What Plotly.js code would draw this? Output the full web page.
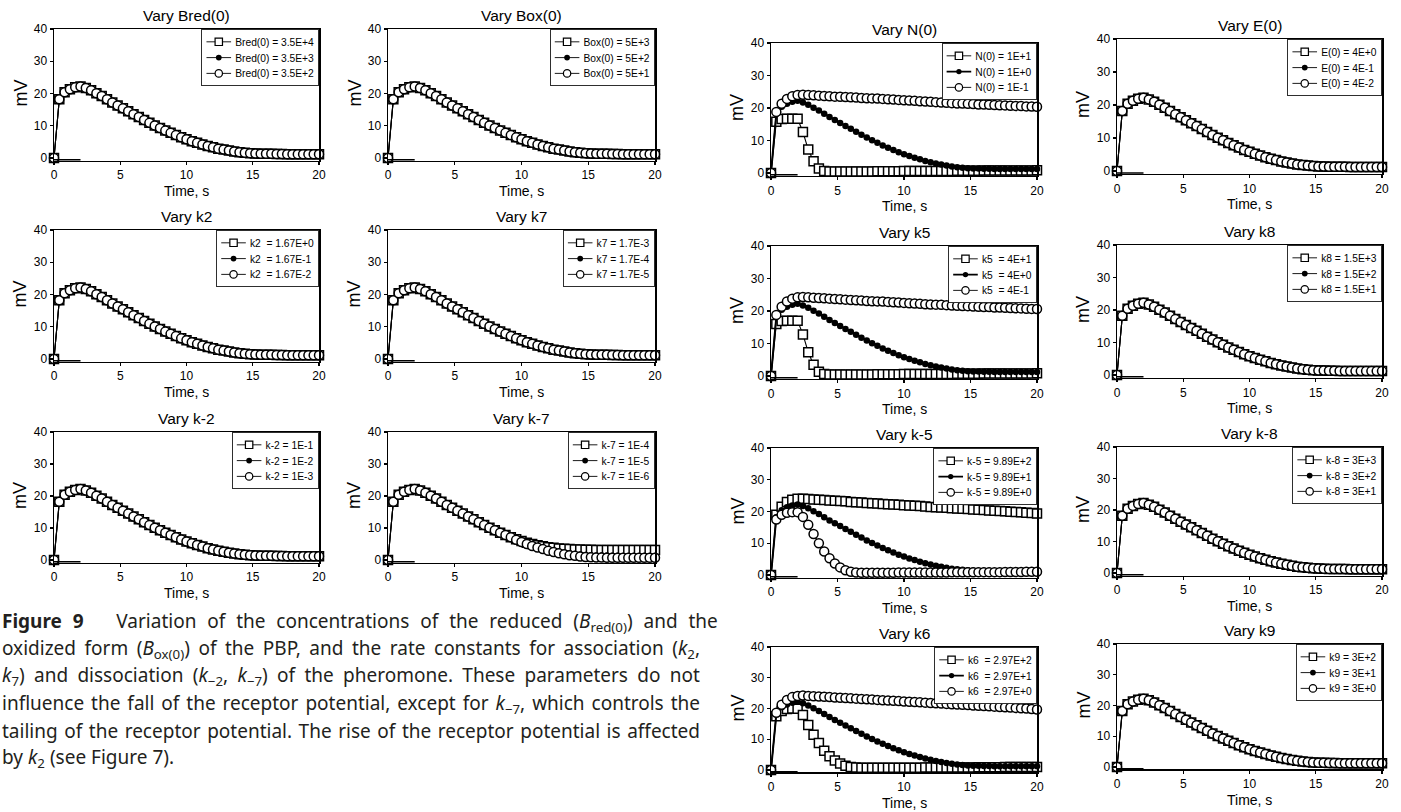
<!DOCTYPE html>
<html><head><meta charset="utf-8">
<script src="https://cdn.plot.ly/plotly-3.0.1.min.js"></script>
<style>html,body{margin:0;padding:0;background:#fff}#chart{width:1401px;height:812px}</style>
</head><body><div id="chart"></div>
<script>
// ---------- data ----------
const time = [0,0.4,0.8,1.2,1.6,2,2.4,2.8,3.2,3.6,4,4.4,4.8,5.2,5.6,6,6.4,6.8,7.2,7.6,8,8.4,8.8,9.2,9.6,10,10.4,10.8,11.2,11.6,12,12.4,12.8,13.2,13.6,14,14.4,14.8,15.2,15.6,16,16.4,16.8,17.2,17.6,18,18.4,18.8,19.2,19.6,20];
const standard = [0,18.2,20.4,21.3,21.9,22.2,21.7,21.0,20.1,19.2,18.2,17.2,16.3,15.4,14.5,13.6,12.7,11.8,10.9,10.1,9.3,8.5,7.8,7.1,6.4,5.8,5.2,4.7,4.2,3.7,3.3,2.9,2.6,2.3,2.0,1.8,1.65,1.5,1.4,1.35,1.3,1.3,1.25,1.25,1.2,1.2,1.2,1.2,1.2,1.2,1.2];
const kM7_1E4 = [0,18.2,20.4,21.3,21.9,22.2,21.7,21.0,20.1,19.2,18.2,17.2,16.3,15.4,14.5,13.6,12.7,11.8,10.9,10.1,9.3,8.5,7.8,7.1,6.5,5.9,5.4,5.0,4.6,4.3,4.0,3.8,3.6,3.5,3.4,3.3,3.25,3.2,3.2,3.15,3.15,3.15,3.1,3.1,3.1,3.1,3.1,3.1,3.1,3.1,3.1];
const kM7_1E6 = [0,18.2,20.4,21.3,21.9,22.2,21.7,21.0,20.1,19.2,18.2,17.2,16.3,15.4,14.5,13.6,12.7,11.8,10.9,10.1,9.3,8.5,7.8,7.1,6.3,5.6,5.0,4.4,3.9,3.4,2.9,2.5,2.1,1.8,1.5,1.3,1.1,0.95,0.85,0.8,0.75,0.72,0.7,0.7,0.7,0.7,0.7,0.7,0.7,0.7,0.7];
const N0_1E1 = [0,15.8,16.6,16.7,16.7,16.7,12.6,7.2,3.6,1.4,0.6,0.5,0.5,0.5,0.5,0.5,0.5,0.5,0.5,0.5,0.55,0.55,0.55,0.55,0.55,0.6,0.6,0.6,0.6,0.6,0.65,0.65,0.65,0.65,0.65,0.7,0.7,0.7,0.7,0.7,0.75,0.75,0.75,0.75,0.75,0.8,0.8,0.8,0.8,0.8,0.85];
const N0_1Em1 = [0,18.8,21.3,22.8,23.6,24.0,24.1,24.0,23.9,23.8,23.7,23.6,23.5,23.45,23.4,23.3,23.2,23.1,23.0,22.95,22.9,22.8,22.7,22.6,22.5,22.4,22.3,22.2,22.1,22.0,21.9,21.8,21.7,21.6,21.5,21.4,21.35,21.3,21.2,21.1,21.05,21.0,20.9,20.85,20.8,20.7,20.65,20.6,20.5,20.45,20.4];
const k5_4E1 = [0,16.0,16.9,17.0,17.0,17.0,12.8,7.3,3.5,1.3,0.6,0.5,0.5,0.5,0.5,0.5,0.5,0.5,0.5,0.5,0.55,0.55,0.55,0.55,0.55,0.6,0.6,0.6,0.6,0.6,0.65,0.65,0.65,0.65,0.65,0.7,0.7,0.7,0.7,0.7,0.75,0.75,0.75,0.75,0.75,0.8,0.8,0.8,0.8,0.8,0.85];
const k5_4Em1 = [0,18.8,21.3,22.9,23.8,24.2,24.3,24.2,24.1,24.0,23.9,23.8,23.7,23.6,23.5,23.4,23.3,23.2,23.1,23.0,22.95,22.9,22.8,22.7,22.6,22.5,22.4,22.3,22.2,22.1,22.0,21.95,21.9,21.8,21.7,21.6,21.55,21.5,21.4,21.3,21.25,21.2,21.1,21.05,21.0,20.9,20.85,20.8,20.7,20.65,20.6];
const kM5_989E2 = [0,19.0,21.5,23.0,23.7,24.0,24.0,23.9,23.8,23.7,23.6,23.5,23.4,23.3,23.2,23.0,22.9,22.8,22.7,22.6,22.5,22.4,22.3,22.2,22.1,22.0,21.9,21.8,21.7,21.55,21.45,21.35,21.25,21.15,21.05,20.95,20.85,20.75,20.65,20.55,20.45,20.35,20.25,20.15,20.05,19.95,19.85,19.75,19.6,19.5,19.4];
const kM5_989E0 = [0,17.5,19.0,19.6,19.8,19.8,18.3,15.8,12.9,10.0,7.4,5.3,3.6,2.4,1.5,1.0,0.8,0.7,0.7,0.7,0.7,0.7,0.7,0.7,0.75,0.75,0.75,0.75,0.75,0.8,0.8,0.8,0.8,0.8,0.85,0.85,0.85,0.85,0.85,0.9,0.9,0.9,0.9,0.9,0.95,0.95,0.95,0.95,1.0,1.0,1.0];
const k6_297E2 = [0,17.5,19.2,19.8,20.0,19.9,17.9,14.6,11.5,8.8,6.3,4.5,3.1,2.1,1.4,1.0,0.8,0.7,0.7,0.7,0.7,0.7,0.7,0.7,0.75,0.75,0.75,0.75,0.75,0.8,0.8,0.8,0.8,0.8,0.85,0.85,0.85,0.85,0.85,0.9,0.9,0.9,0.9,0.9,0.95,0.95,0.95,0.95,1.0,1.0,1.0];
const k6_297E0 = [0,18.6,21.2,22.8,23.7,24.1,24.2,24.1,24.0,23.9,23.8,23.7,23.6,23.5,23.4,23.3,23.2,23.1,23.0,22.9,22.8,22.7,22.6,22.5,22.4,22.3,22.2,22.1,22.0,21.9,21.8,21.7,21.6,21.5,21.4,21.3,21.2,21.1,21.0,20.9,20.8,20.7,20.6,20.5,20.4,20.3,20.2,20.1,20.0,19.85,19.7];
const stimulusTime = [0, 2];

const panelTitles = ['Vary Bred(0)','Vary Box(0)','Vary k2','Vary k7','Vary k-2','Vary k-7',
  'Vary N(0)','Vary E(0)','Vary k5','Vary k8','Vary k-5','Vary k-8','Vary k6','Vary k9'];
const legendLabels = [
  ['Bred(0) = 3.5E+4','Bred(0) = 3.5E+3','Bred(0) = 3.5E+2'],
  ['Box(0) = 5E+3','Box(0) = 5E+2','Box(0) = 5E+1'],
  ['k2  = 1.67E+0','k2  = 1.67E-1','k2  = 1.67E-2'],
  ['k7 = 1.7E-3','k7 = 1.7E-4','k7 = 1.7E-5'],
  ['k-2 = 1E-1','k-2 = 1E-2','k-2 = 1E-3'],
  ['k-7 = 1E-4','k-7 = 1E-5','k-7 = 1E-6'],
  ['N(0) = 1E+1','N(0) = 1E+0','N(0) = 1E-1'],
  ['E(0) = 4E+0','E(0) = 4E-1','E(0) = 4E-2'],
  ['k5  = 4E+1','k5  = 4E+0','k5  = 4E-1'],
  ['k8 = 1.5E+3','k8 = 1.5E+2','k8 = 1.5E+1'],
  ['k-5 = 9.89E+2','k-5 = 9.89E+1','k-5 = 9.89E+0'],
  ['k-8 = 3E+3','k-8 = 3E+2','k-8 = 3E+1'],
  ['k6  = 2.97E+2','k6  = 2.97E+1','k6  = 2.97E+0'],
  ['k9 = 3E+2','k9 = 3E+1','k9 = 3E+0']
];
const panelSeries = [
  [standard, standard, standard],
  [standard, standard, standard],
  [standard, standard, standard],
  [standard, standard, standard],
  [standard, standard, standard],
  [kM7_1E4, standard, kM7_1E6],
  [N0_1E1, standard, N0_1Em1],
  [standard, standard, standard],
  [k5_4E1, standard, k5_4Em1],
  [standard, standard, standard],
  [kM5_989E2, standard, kM5_989E0],
  [standard, standard, standard],
  [k6_297E2, standard, k6_297E0],
  [standard, standard, standard]
];
const xTicks = [0, 5, 10, 15, 20];
const yTicks = [0, 10, 20, 30, 40];
const xTitle = 'Time, s';
const yTitle = 'mV';
const captionLines = [
  '<b>Figure 9</b>\u00a0\u00a0\u00a0Variation of the concentrations of the reduced (<i>B</i><sub>red(0)</sub>) and the',
  'oxidized form (<i>B</i><sub>ox(0)</sub>) of the PBP, and the rate constants for association (<i>k</i><sub>2</sub>,',
  '<i>k</i><sub>7</sub>) and dissociation (<i>k</i><sub>\u22122</sub>, <i>k</i><sub>\u22127</sub>) of the pheromone. These parameters do not',
  'influence the fall of the receptor potential, except for <i>k</i><sub>\u22127</sub>, which controls the',
  'tailing of the receptor potential. The rise of the receptor potential is affected',
  'by <i>k</i><sub>2</sub> (see Figure 7).'
];

// ---------- layout (pixel boxes: x of t=0 and t=20, y of 40 mV and 0 mV) ----------
const W = 1401, H = 812;
const boxes = [
  [54,319,29,158],[388,655,29,158],
  [54,319,230,359],[388,655,230,359],
  [54,319,432,560],[388,655,432,560],
  [771,1037,43,173],[1117,1382,39,171],
  [771,1037,246,376],[1117,1382,245,375],
  [771,1037,448,575],[1117,1382,447,573],
  [771,1037,647,770],[1117,1382,644,767]
];
const densePanels = [6, 8, 10, 12];
const YMIN = -0.8;
const FONT = 'Liberation Sans, Arial, Helvetica, sans-serif';
const CAP_FONT = 'Noto Sans, Open Sans, sans-serif';
const CAP_RIGHT = 700;
const LEGEND_SCALE = 0.82;

const traces = [];
const layout = {
  width: W, height: H, margin: {l:0, r:0, t:0, b:0},
  paper_bgcolor: '#fff', plot_bgcolor: '#fff',
  font: {family: FONT, color: '#000', size: 12},
  annotations: [], showlegend: true
};
const px2x = p => p / W;
const px2y = p => 1 - p / H;

boxes.forEach((b, i) => {
  const [x0, x1, yTop, yZero] = b;
  const n = i + 1;
  const xa = 'x' + (n === 1 ? '' : n), ya = 'y' + (n === 1 ? '' : n);
  const xk = 'xaxis' + (n === 1 ? '' : n), yk = 'yaxis' + (n === 1 ? '' : n);
  const lg = 'legend' + (n === 1 ? '' : n);
  const pxPerUnit = (yZero - yTop) / 40;
  const yBottom = yZero - YMIN * pxPerUnit;
  const axCommon = {
    showline: true, mirror: true, linecolor: '#000', linewidth: 1.5,
    ticks: 'outside', ticklen: 3, tickwidth: 1.2, tickcolor: '#000',
    showgrid: false, zeroline: false, fixedrange: true,
    tickfont: {family: FONT, size: 12, color: '#000'}
  };
  layout[xk] = Object.assign({}, axCommon, {
    domain: [px2x(x0), px2x(x1)], range: [0, 20], tickvals: xTicks, anchor: ya
  });
  layout[yk] = Object.assign({}, axCommon, {
    domain: [px2y(yBottom), px2y(yTop)], range: [YMIN, 40], tickvals: yTicks, anchor: xa
  });
  layout[lg] = {
    x: px2x(x1), y: px2y(yTop), xanchor: 'right', yanchor: 'top',
    bgcolor: '#fff', bordercolor: '#000', borderwidth: 1,
    font: {family: FONT, size: 12.5, color: '#000'},
    itemwidth: 30, tracegroupgap: 0, traceorder: 'normal'
  };
  const dense = densePanels.includes(i);
  const symbols = ['square', 'circle', 'circle'];
  panelSeries[i].forEach((ys, s) => {
    const filled = s === 1;
    traces.push({
      type: 'scatter', mode: 'lines+markers', x: time, y: ys,
      xaxis: xa, yaxis: ya, legend: lg, name: legendLabels[i][s],
      cliponaxis: false,
      line: {color: '#000', width: filled && dense ? 2 : 1.1},
      marker: {
        symbol: symbols[s],
        size: filled ? (dense ? 6.5 : 7) : 9,
        color: filled ? '#000' : '#fff',
        line: {color: '#000', width: filled ? 0 : 1.5}
      },
      hoverinfo: 'skip'
    });
  });
  // stimulus bar
  traces.push({
    type: 'scatter', mode: 'lines', x: stimulusTime, y: [YMIN, YMIN],
    xaxis: xa, yaxis: ya, showlegend: false, cliponaxis: false,
    line: {color: '#000', width: 3}, hoverinfo: 'skip'
  });
  // panel title
  layout.annotations.push({
    xref: 'paper', yref: 'paper', x: px2x((x0 + x1) / 2), y: px2y(yTop - 3),
    xanchor: 'center', yanchor: 'bottom', showarrow: false,
    text: panelTitles[i], font: {family: FONT, size: 15.5, color: '#000'}
  });
  // x axis title
  layout.annotations.push({
    xref: 'paper', yref: 'paper', x: px2x((x0 + x1) / 2), y: px2y(yBottom + 30.5),
    xanchor: 'center', yanchor: 'middle', showarrow: false,
    text: xTitle, font: {family: FONT, size: 14, color: '#000'}
  });
  // y axis title
  layout.annotations.push({
    xref: 'paper', yref: 'paper', x: px2x(x0 - 34), y: px2y((yTop + yZero) / 2),
    xanchor: 'center', yanchor: 'middle', showarrow: false, textangle: -90,
    text: yTitle, font: {family: FONT, size: 18, color: '#000'}
  });
});

const captionStart = layout.annotations.length;
captionLines.forEach((t, k) => {
  layout.annotations.push({
    xref: 'paper', yref: 'paper', x: 0, y: px2y(622 + k * 27.2),
    xanchor: 'left', yanchor: 'middle', showarrow: false, align: 'left',
    text: t, font: {family: CAP_FONT, size: 19, color: '#231f20'}
  });
});

Plotly.newPlot('chart', traces, layout, {displayModeBar: false, staticPlot: true}).then(gd => {
  // justify the caption lines (all but the last) to the right edge, as in the printed figure
  const texts = gd.querySelectorAll('.annotation-text');
  for (let k = 0; k < captionLines.length - 1; k++) {
    const el = texts[captionStart + k];
    if (!el) continue;
    const before = el.getBoundingClientRect();
    const spaces = (el.textContent.match(/ /g) || []).length;
    if (!spaces) continue;
    const extra = (CAP_RIGHT - before.right) / spaces;
    el.style.wordSpacing = extra + 'px';
    const after = el.getBoundingClientRect();
    const dx = before.left - after.left;
    if (Math.abs(dx) > 0.1) {
      const prev = el.getAttribute('transform') || '';
      el.setAttribute('transform', prev + ' translate(' + dx + ',0)');
    }
  }
  // make the per-panel legend boxes compact (as in the printed figure), keeping the top-right corner fixed
  gd.querySelectorAll('.infolayer > g').forEach(g => {
    const cls = g.getAttribute('class') || '';
    if (!/^legend\d*$/.test(cls)) return;
    const bg = g.querySelector('rect.bg');
    const tr = g.getAttribute('transform') || '';
    const m = tr.match(/translate\(\s*([-\d.e]+)[ ,]+([-\d.e]+)\s*\)/);
    if (!bg || !m) return;
    const w = parseFloat(bg.getAttribute('width')) || 0;
    const tx = parseFloat(m[1]) + w * (1 - LEGEND_SCALE);
    g.setAttribute('transform', 'translate(' + tx + ',' + m[2] + ') scale(' + LEGEND_SCALE + ')');
  });
});
</script></body></html>
